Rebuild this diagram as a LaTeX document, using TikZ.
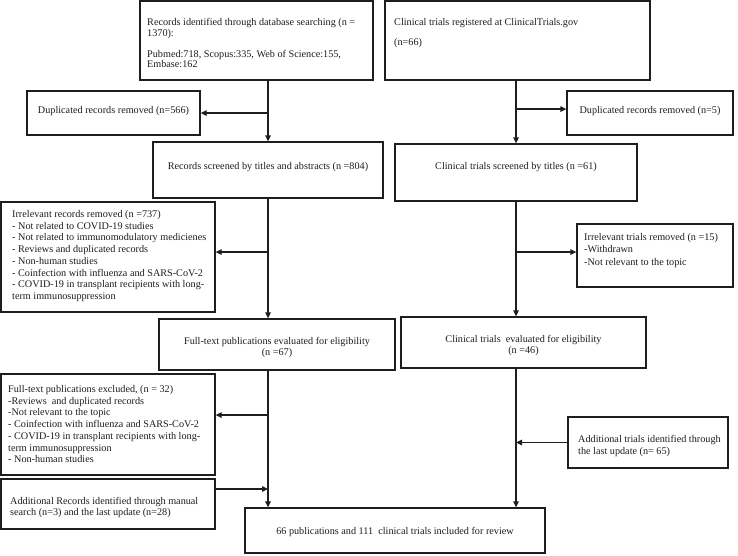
\documentclass[tikz,border=0pt]{standalone}
\usepackage{fontspec}
\setmainfont{Liberation Serif}
\usetikzlibrary{arrows.meta}
\definecolor{ink}{HTML}{1E1E1E}
\tikzset{
  box/.style={draw=ink, line width=1.3pt, inner sep=0pt, fill=white},
  txt/.style={inner sep=0pt, align=left, anchor=north west, text=ink, font=\fontsize{10.2}{11.7}\selectfont},
  ctxt/.style={inner sep=0pt, align=center, anchor=center, text=ink, font=\fontsize{10.2}{11}\selectfont},
  arr/.style={draw=ink, line width=1.3pt, -{Triangle[length=6pt,width=5.5pt]}}
}
\begin{document}
\begin{tikzpicture}[x=1pt,y=-1pt]
\useasboundingbox[fill=white] (0,0) rectangle (738,555);
% boxes
\node[box, minimum width=233pt, minimum height=79pt] (A) at (256.5,40.5) {};
\node[box, minimum width=265pt, minimum height=79pt] (B) at (517.5,40.5) {};
\node[box, minimum width=173pt, minimum height=44pt] (D1) at (113.5,113) {};
\node[box, minimum width=166pt, minimum height=44pt] (D2) at (650,113) {};
\node[box, minimum width=230pt, minimum height=56pt] (C) at (268,170) {};
\node[box, minimum width=242pt, minimum height=57pt] (D) at (516,172.5) {};
\node[box, minimum width=214pt, minimum height=110pt] (IR) at (108,257) {};
\node[box, minimum width=156pt, minimum height=63pt] (IT) at (655,255.5) {};
\node[box, minimum width=236pt, minimum height=51pt] (FT) at (277,344.5) {};
\node[box, minimum width=245pt, minimum height=51pt] (TE) at (523.5,342.5) {};
\node[box, minimum width=214pt, minimum height=101pt] (EX) at (108,424.5) {};
\node[box, minimum width=214pt, minimum height=50pt] (AR) at (108,504) {};
\node[box, minimum width=160pt, minimum height=51pt] (AT) at (648,442.5) {};
\node[box, minimum width=300pt, minimum height=45pt] (F) at (395,530.5) {};
% texts
\node[txt, font=\fontsize{10.2}{10.5}\selectfont] (At) at (147,18.5) {Records identified through database searching (n =\\1370):\\[10.5pt]Pubmed:718, Scopus:335, Web of Science:155,\\Embase:162};
\node[txt] (Bt) at (394,18.5) {Clinical trials registered at ClinicalTrials.gov\\[8.3pt](n=66)};
\node[ctxt] (D1t) at (113.5,111) {Duplicated records removed (n=566)};
\node[ctxt] (D2t) at (650,111) {Duplicated records removed (n=5)};
\node[ctxt] (Ct) at (268,167) {Records screened by titles and abstracts (n =804)};
\node[ctxt] (Dt) at (516,167) {Clinical trials screened by titles (n =61)};
\node[txt] (IRt) at (12,210.3) {Irrelevant records removed (n =737)\\- Not related to COVID-19 studies\\- Not related to immunomodulatory medicienes\\- Reviews and duplicated records\\- Non-human studies\\- Coinfection with influenza and SARS-CoV-2\\- COVID-19 in transplant recipients with long-\\term immunosuppression};
\node[txt, font=\fontsize{10.2}{12.3}\selectfont] (ITt) at (584,233.3) {Irrelevant trials removed (n =15)\\-Withdrawn\\-Not relevant to the topic};
\node[ctxt] (FTt) at (277,347.5) {Full-text publications evaluated for eligibility\\(n =67)};
\node[ctxt] (TEt) at (523.5,345.5) {Clinical trials\ \ evaluated for eligibility\\(n =46)};
\node[txt] (EXt) at (8,385.3) {Full-text publications excluded, (n = 32)\\-Reviews\ \ and duplicated records\\-Not relevant to the topic\\- Coinfection with influenza and SARS-CoV-2\\- COVID-19 in transplant recipients with long-\\term immunosuppression\\- Non-human studies};
\node[txt, font=\fontsize{10.2}{11}\selectfont] (ARt) at (10,497.3) {Additional Records identified through manual\\search (n=3) and the last update (n=28)};
\node[txt, font=\fontsize{10.2}{12}\selectfont] (ATt) at (578,435.3) {Additional trials identified through\\the last update (n= 65)};
\node[ctxt] (Ft) at (395,532) {66 publications and 111\ \ clinical trials included for review};
% junction coordinates
\coordinate (d2In) at ([yshift=4pt]D2.west);
\coordinate (irIn) at ([yshift=5pt]IR.east);
\coordinate (itIn) at ([yshift=3.5pt]IT.west);
\coordinate (exIn) at ([yshift=9.5pt]EX.east);
\coordinate (arOut) at ([yshift=15pt]AR.east);
% left column
\draw[arr] (C.north |- A.south) -- (C.north);
\draw[arr] (C.north |- D1.east) -- (D1.east);
\draw[arr] (C.south) -- (C.south |- FT.north);
\draw[arr] (C.south |- irIn) -- (irIn);
\draw[arr] (C.south |- FT.south) -- (C.south |- F.north);
\draw[arr] (C.south |- exIn) -- (exIn);
\draw[arr] (arOut) -- (arOut -| C.south);
% right column
\draw[arr] (D.north |- B.south) -- (D.north);
\draw[arr] (D.north |- d2In) -- (d2In);
\draw[arr] (D.south) -- (D.south |- TE.north);
\draw[arr] (D.south |- itIn) -- (itIn);
\draw[arr] (D.south |- TE.south) -- (D.south |- F.north);
\draw[arr] (AT.west) -- (AT.west -| D.south);
\end{tikzpicture}
\end{document}
